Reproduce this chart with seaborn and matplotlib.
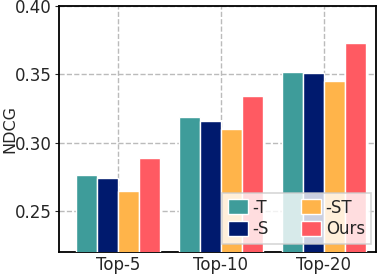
import pandas as pd
import seaborn as sns
import matplotlib.pyplot as plt

groups = ["Top-5", "Top-10", "Top-20"]
variants = ["-T", "-S", "-ST", "Ours"]
ndcg_t = [0.2765, 0.319, 0.352]
ndcg_s = [0.274, 0.316, 0.351]
ndcg_st = [0.265, 0.310, 0.3455]
ndcg_ours = [0.289, 0.334, 0.373]
colors = ["#3E9C9A", "#001A6E", "#FFB44A", "#FF5A62"]

rows = []
for name, vals in zip(variants, [ndcg_t, ndcg_s, ndcg_st, ndcg_ours]):
    for g, v in zip(groups, vals):
        rows.append({"group": g, "variant": name, "ndcg": v})
df = pd.DataFrame(rows)

sns.set_style("ticks")
plt.rcParams["font.family"] = ["DejaVu Sans"]

fig, ax = plt.subplots(figsize=(3.82, 2.78), dpi=100)
sns.barplot(data=df, x="group", y="ndcg", hue="variant", hue_order=variants,
            palette=colors, width=0.82, edgecolor="white", linewidth=1.0,
            saturation=1, ax=ax, zorder=3)

ax.set_ylim(0.22, 0.40)
ax.set_yticks([0.25, 0.30, 0.35, 0.40])
ax.set_xlim(-0.573, 2.505)
ax.set_xlabel("")
ax.set_ylabel("NDCG", fontsize=11.5)
ax.yaxis.set_label_coords(-0.132, 0.5)
ax.tick_params(axis="y", labelsize=12, direction="out", length=3, pad=2)
ax.tick_params(axis="x", labelsize=12, length=0, pad=3)
ax.grid(True, linestyle="--", color="#BBBBBB", linewidth=1, zorder=0)
ax.set_axisbelow(True)
for sp in ax.spines.values():
    sp.set_linewidth(1.3)
    sp.set_color("black")

leg = ax.legend(loc="lower right", ncol=2, fontsize=12, frameon=True,
                fancybox=False, handlelength=1.2, handleheight=1.0,
                columnspacing=1.9, handletextpad=0.3, borderpad=0.36,
                labelspacing=0.2, borderaxespad=0,
                bbox_to_anchor=(0.984, 0.033))
leg.get_frame().set_edgecolor("#CCCCCC")
leg.get_frame().set_linewidth(1.2)

plt.subplots_adjust(left=0.1545, right=0.984, top=0.978, bottom=0.0935)
plt.savefig("out.png", dpi=100)
